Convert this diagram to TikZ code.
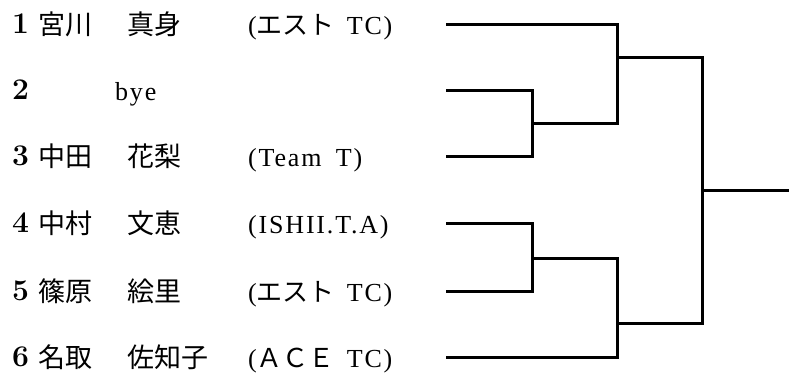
\documentclass[tikz,border=0pt]{standalone}
\usepackage{fontspec}
\newfontfamily\jp{Noto Sans CJK JP}
\newfontfamily\lat[LetterSpace=7]{Liberation Serif}
\begin{document}
\begin{tikzpicture}[x=1pt,y=-1pt,
  num/.style={anchor=base west,inner sep=0pt,font=\fontsize{30}{32}\selectfont\bfseries},
  jpt/.style={anchor=base west,inner sep=0pt,font=\fontsize{27}{30}\selectfont\jp},
  club/.style={anchor=base west,inner sep=0pt,font=\fontsize{26}{30}\selectfont\lat},
  bra/.style={line width=3pt,line join=miter,line cap=rect}]
\useasboundingbox (0,0) rectangle (789,379);
\newcommand{\kt}[1]{{\fontsize{26}{30}\selectfont\jp #1}}
% row 1
\node[num] (n1) at (12,34) {1};
\node[jpt] (s1) at (38,35) {宮川};
\node[jpt] (g1) at (127,35) {真身};
\node[club] (c1) at (248,35) {(\kt{エスト}\hspace{12pt}TC)};
% row 2
\node[num] (n2) at (12,100) {2};
\node[club] (g2) at (115,101) {bye};
% row 3
\node[num] (n3) at (12,166) {3};
\node[jpt] (s3) at (38,167) {中田};
\node[jpt] (g3) at (127,167) {花梨};
\node[club] (c3) at (248,167) {(Team\hspace{6pt} T)};
% row 4
\node[num] (n4) at (12,233) {4};
\node[jpt] (s4) at (38,234) {中村};
\node[jpt] (g4) at (127,234) {文恵};
\node[club] (c4) at (248,234) {(ISHII.T.A)};
% row 5
\node[num] (n5) at (12,300) {5};
\node[jpt] (s5) at (38,301) {篠原};
\node[jpt] (g5) at (127,301) {絵里};
\node[club] (c5) at (248,301) {(\kt{エスト}\hspace{12pt}TC)};
% row 6
\node[num] (n6) at (12,366) {6};
\node[jpt] (s6) at (38,367) {名取};
\node[jpt] (g6) at (127,367) {佐知子};
\node[club] (c6) at (248,367) {(\kt{ＡＣＥ}\hspace{12pt}TC)};
% bracket coordinates
\coordinate (p1) at (447,25);
\coordinate (p2) at (447,91);
\coordinate (p3) at (447,157);
\coordinate (p4) at (447,224);
\coordinate (p5) at (447,291);
\coordinate (p6) at (447,357);
\coordinate (w23) at (532,124);
\coordinate (w45) at (532,258);
\coordinate (wt) at (617,58);
\coordinate (wb) at (617,323);
\coordinate (wf) at (702,191);
\coordinate (out) at (787,191);
% first round
\draw[bra] (p2) -| (w23) |- (p3);
\draw[bra] (p4) -| (w45) |- (p5);
% second round
\draw[bra] (p1) -| (wt) |- (w23);
\draw[bra] (w45) -| (wb) |- (p6);
% final
\draw[bra] (wt) -| (wf) |- (wb);
\draw[bra] (wf) -- (out);
\end{tikzpicture}
\end{document}
